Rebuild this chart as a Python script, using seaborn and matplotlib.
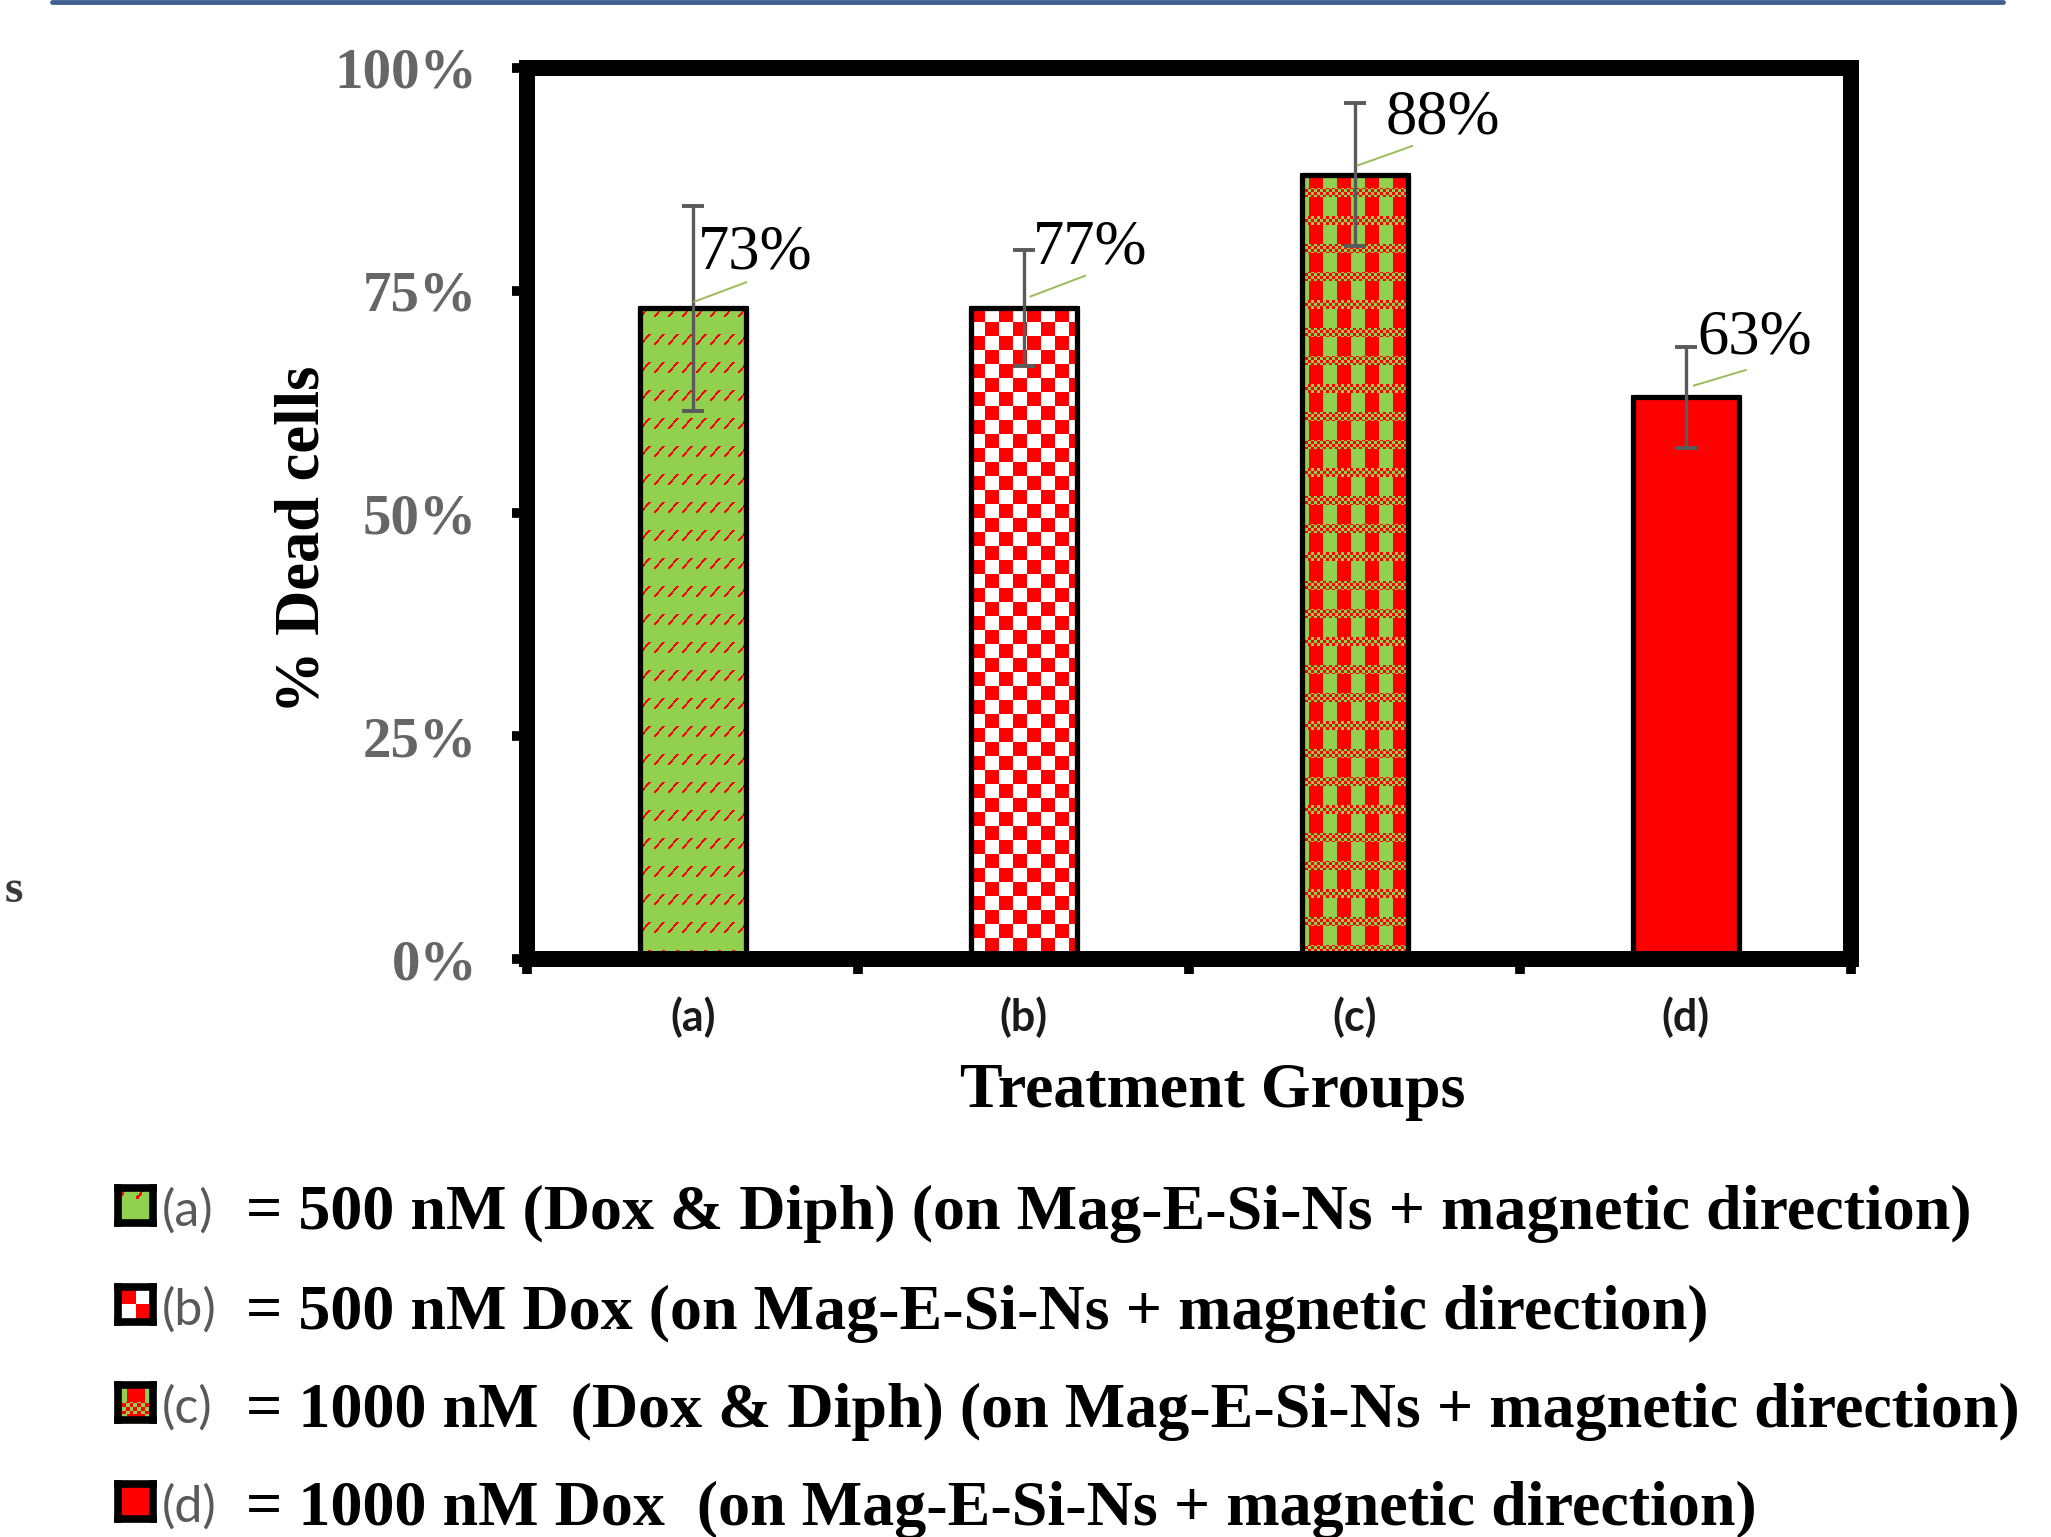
# % dead cells per treatment group - bar chart with patterned bars
import numpy as np
import pandas as pd
import matplotlib
matplotlib.use("Agg")
import matplotlib.pyplot as plt
import matplotlib.colors as mcolors
import seaborn as sns
from matplotlib.ticker import PercentFormatter
from matplotlib.patches import Rectangle
from matplotlib.lines import Line2D
from matplotlib.transforms import offset_copy

# Data
groups = ['(a)', '(b)', '(c)', '(d)']
dead_cells = [73, 73, 88, 63]
errors = [11.5, 6.5, 8.0, 5.7]
value_labels = ['73%', '77%', '88%', '63%']
y_ticks = [0, 25, 50, 75, 100]
legend_keys = ['(a)', '(b)', '(c)', '(d)']
legend_texts = [
    '= 500 nM (Dox & Diph) (on Mag-E-Si-Ns + magnetic direction)',
    '= 500 nM Dox (on Mag-E-Si-Ns + magnetic direction)',
    '= 1000 nM  (Dox & Diph) (on Mag-E-Si-Ns + magnetic direction)',
    '= 1000 nM Dox  (on Mag-E-Si-Ns + magnetic direction)',
]

# Styling
base_colors = ['#92D050', '#FFFFFF', '#92D050', '#FF0000']
patterns = ['dash', 'check', 'weave', 'solid']
# label offsets (points) and leader line start / end offsets (points)
label_offsets = [(3.6, 39.6), (6.5, 43.2), (22.3, 40.5), (8.6, 42.5)]
leader_start = [(0.9, 4.7), (4.7, 8.5), (1.9, 6.6), (5.6, 8.5)]
leader_end = [(38.6, 18.8), (44.3, 23.5), (41.4, 20.7), (43.3, 19.8)]

GREEN = np.array(mcolors.to_rgb('#92D050'))
RED = np.array(mcolors.to_rgb('#FF0000'))
WHITE = np.array([1.0, 1.0, 1.0])


def texture(kind, h, w):
    rr, cc = np.mgrid[0:h, 0:w]
    img = np.ones((h, w, 3))
    if kind == 'dash':
        img[:] = GREEN
        r = (rr + 4) % 28
        c = cc % 14
        on = (r >= 2) & (r <= 12) & (np.abs(r - (12.2 - 1.15 * c)) <= 1.5)
        img[on] = RED
    elif kind == 'check':
        on = ((rr // 14) + (cc // 14)) % 2 == 0
        img[:] = WHITE
        img[on] = RED
    elif kind == 'weave':
        stripe = ((cc + 7) // 14) % 2 == 1
        img[:] = GREEN
        img[stripe] = RED
        band = ((rr + 14) % 28) < 9
        fine = ((rr // 3) + (cc // 3)) % 2 == 0
        img[band & fine] = RED
        img[band & ~fine] = GREEN
    else:
        img[:] = RED
    return img


sns.set_style('white')
plt.rcParams['font.family'] = ['Liberation Serif', 'DejaVu Serif']

fig = plt.figure(figsize=(20.512, 15.372), dpi=100)
ax = fig.add_axes([0.2570, 0.3761, 0.6456, 0.5797])

df = pd.DataFrame({'group': groups, 'dead': dead_cells})
sns.barplot(data=df, x='group', y='dead', hue='group', palette=base_colors,
            saturation=1, width=0.32, edgecolor='black', linewidth=3.5,
            errorbar=None, legend=False, ax=ax, zorder=1)
ax.set_xlim(-0.5, 3.5)
ax.set_ylim(0, 100)

# pattern fills clipped to each bar
bars = list(ax.patches)[:len(groups)]
for patch, kind in zip(bars, patterns):
    x0, y0 = patch.get_x(), patch.get_y()
    x1, y1 = x0 + patch.get_width(), y0 + patch.get_height()
    p0 = ax.transData.transform((x0, y0))
    p1 = ax.transData.transform((x1, y1))
    wpx = max(1, int(round(abs(p1[0] - p0[0]))))
    hpx = max(1, int(round(abs(p1[1] - p0[1]))))
    im = ax.imshow(texture(kind, hpx, wpx), extent=(x0, x1, y0, y1), origin='upper',
                   aspect='auto', interpolation='nearest', zorder=1.2)
    im.set_clip_path(patch)
    ax.add_patch(Rectangle((x0, y0), patch.get_width(), patch.get_height(), fill=False,
                           ec='black', lw=3.8, zorder=2, joinstyle='round'))
ax.set_xlim(-0.5, 3.5)
ax.set_ylim(0, 100)

# error bars
ax.errorbar(range(len(groups)), dead_cells, yerr=errors, fmt='none', ecolor='#5a5a5a',
            elinewidth=2.4, capsize=8, capthick=2.8, zorder=4)

# value labels with leader lines
for i, (v, lab) in enumerate(zip(dead_cells, value_labels)):
    ax.annotate(lab, xy=(i, v), xytext=label_offsets[i], textcoords='offset points',
                ha='left', va='center', fontsize=45, color='black', zorder=6)
    sx, sy = leader_start[i]
    ex, ey = leader_end[i]
    ax.annotate('', xy=(i, v), xycoords=offset_copy(ax.transData, fig=fig, x=sx, y=sy, units='points'),
                xytext=(ex - sx, ey - sy), textcoords='offset points',
                arrowprops=dict(arrowstyle='-', color='#9BBB59', lw=1.4, shrinkA=0, shrinkB=0),
                zorder=5)

# axes styling
for s in ax.spines.values():
    s.set_visible(True)
    s.set_linewidth(11.5)
    s.set_color('black')
    s.set_capstyle('projecting')

ax.set_yticks(y_ticks)
ax.yaxis.set_major_formatter(PercentFormatter(100, decimals=0))
ax.tick_params(axis='y', which='major', left=True, length=11, width=7, color='black',
               direction='out', pad=25, labelsize=41, labelcolor='#666666')
for lbl in ax.get_yticklabels():
    lbl.set_fontweight('bold')

ax.set_xticks(range(len(groups)))
ax.set_xticklabels(groups)
ax.set_xticks([-0.5, 0.5, 1.5, 2.5, 3.5], minor=True)
ax.tick_params(axis='x', which='major', bottom=True, length=0, pad=27, labelsize=31,
               labelcolor='#1a1a1a')
ax.tick_params(axis='x', which='minor', bottom=True, length=11, width=7, color='black',
               direction='out')
for lbl in ax.get_xticklabels():
    lbl.set_fontfamily(['Lato', 'DejaVu Sans'])
    lbl.set_fontweight('bold')

ax.set_xlabel('Treatment Groups', fontsize=46, fontweight='bold', color='black')
ax.xaxis.set_label_coords(0.518, -0.117)
ax.set_ylabel('% Dead cells', fontsize=45, fontweight='bold', color='black')
ax.yaxis.set_label_coords(-0.147, 0.471)

# top blue rule and stray letter at left
fig.add_artist(Line2D([52 / 2051, 2003 / 2051], [1 - 2 / 1537, 1 - 2 / 1537],
                      transform=fig.transFigure, color='#3F6190', lw=3.5,
                      solid_capstyle='round'))
fig.text(5 / 2051, 1 - 891 / 1537, 's', fontsize=34, va='center', ha='left',
         color='#3a3a3a', fontweight='bold')

# legend rows below the chart
row_centers = [1206, 1305, 1403, 1502]
row_baselines = [1229, 1329, 1427, 1525]
renderer = fig.canvas.get_renderer()
probe = fig.text(0, 0, legend_texts[0], fontsize=46, fontweight='bold')
fs = 46 * 1723 / probe.get_window_extent(renderer).width
probe.remove()

for i, (key, txt) in enumerate(zip(legend_keys, legend_texts)):
    c = row_centers[i]
    iax = fig.add_axes([118 / 2051, 1 - (c + 17.5) / 1537, 35 / 2051, 35 / 1537])
    iax.imshow(texture(patterns[i], 28, 28), aspect='auto', interpolation='nearest')
    iax.set_xticks([])
    iax.set_yticks([])
    for s in iax.spines.values():
        s.set_visible(True)
        s.set_linewidth(5.5)
        s.set_color('black')
        s.set_joinstyle('round')
    fig.text(162 / 2051, 1 - (c + 5) / 1537, key, fontsize=36, color='#595959',
             family=['Lato', 'DejaVu Sans'], va='center', ha='left')
    fig.text(246 / 2051, 1 - row_baselines[i] / 1537, txt, fontsize=fs,
             fontweight='bold', color='black', va='baseline', ha='left')

fig.savefig('out.png', dpi=100)
